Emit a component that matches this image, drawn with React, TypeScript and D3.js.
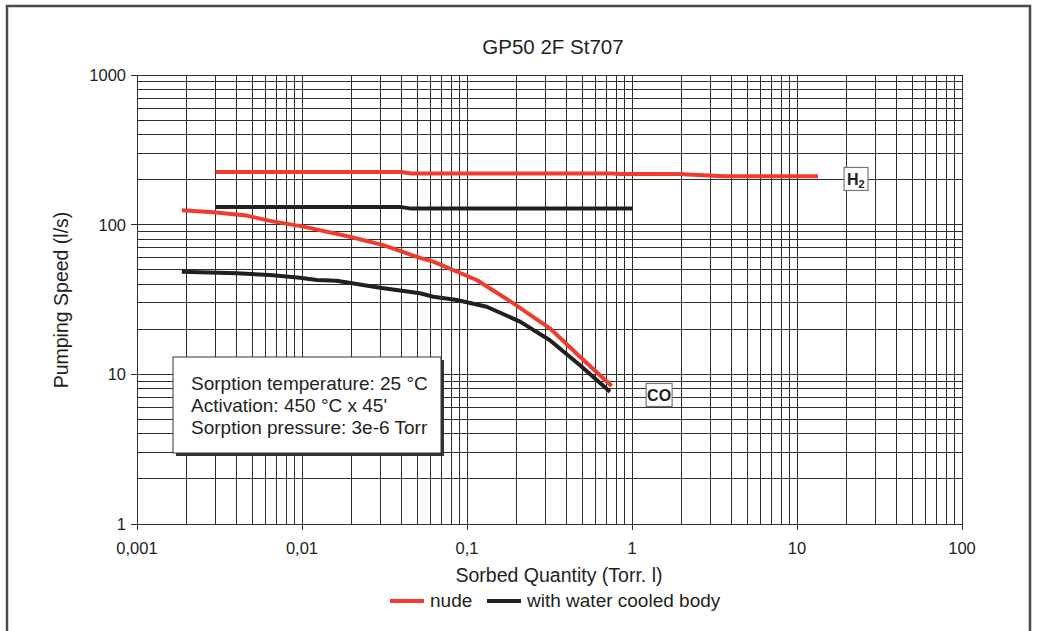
import React from "react";
import * as d3 from "d3";

const W = 1038;
const H = 631;

const xDecades = [0.001, 0.01, 0.1, 1, 10, 100];
const xTickLabels = ["0,001", "0,01", "0,1", "1", "10", "100"];
const yDecades = [1, 10, 100, 1000];
const yTickLabels = ["1", "10", "100", "1000"];

const h2NudeX = [0.003, 0.04, 0.046, 0.75, 0.85, 1.9, 3.6, 13.4];
const h2NudeY = [225, 225, 220, 220, 218, 218, 211, 211];
const h2CooledX = [0.003, 0.04, 0.046, 1.0];
const h2CooledY = [131, 131, 128, 128];
const coNudeX = [0.00187, 0.0029, 0.00462, 0.0064, 0.0102, 0.0195, 0.0311, 0.0519, 0.0625, 0.1145, 0.191, 0.318, 0.484, 0.753];
const coNudeY = [125, 121, 115, 106, 97, 83, 73, 60, 56.6, 42.7, 29.8, 20.3, 13.1, 8.36];
const coCooledX = [0.00187, 0.00402, 0.0064, 0.0097, 0.0123, 0.0162, 0.0297, 0.0519, 0.0625, 0.0867, 0.1316, 0.2096, 0.318, 0.484, 0.736];
const coCooledY = [48.5, 47.3, 46.1, 44.2, 42.7, 42.2, 37.9, 34.8, 33.0, 31.4, 28.3, 22.5, 16.9, 11.5, 7.66];

const gasLabels = ["H2", "CO"];
const gasLabelX = [22.8, 1.46];
const gasLabelY = [202, 7.28];

const infoLines = [
  "Sorption temperature: 25 °C",
  "Activation: 450 °C x 45'",
  "Sorption pressure: 3e-6 Torr",
];

const seriesNames = ["nude", "with water cooled body"];
const RED = "#ef3b30";
const BLACK = "#231f20";
const FONT = "'Liberation Sans', Arial, sans-serif";
const TXT = "#231f20";

export default function App() {
  const x = d3.scaleLog().domain([0.001, 100]).range([137, 962]);
  const y = d3.scaleLog().domain([1, 1000]).range([524, 75]);

  const xMinor: number[] = [];
  for (let i = 0; i < xDecades.length - 1; i++) {
    for (let k = 2; k <= 9; k++) xMinor.push(xDecades[i] * k);
  }
  const yMinor: number[] = [];
  for (let i = 0; i < yDecades.length - 1; i++) {
    for (let k = 2; k <= 9; k++) yMinor.push(yDecades[i] * k);
  }

  const line = d3
    .line<[number, number]>()
    .x((d) => x(d[0]))
    .y((d) => y(d[1]));

  const zip = (a: number[], b: number[]) => a.map((v, i) => [v, b[i]] as [number, number]);

  const series = [
    { d: zip(coCooledX, coCooledY), c: BLACK },
    { d: zip(h2CooledX, h2CooledY), c: BLACK },
    { d: zip(coNudeX, coNudeY), c: RED },
    { d: zip(h2NudeX, h2NudeY), c: RED },
  ];

  const gridColor = "#2e2e2e";

  return (
    <svg
      width={W}
      height={H}
      style={{ position: "absolute", left: 0, top: 0, background: "#fff" }}
      fontFamily={FONT}
    >
      <rect x={0} y={0} width={W} height={H} fill="#fff" />
      {/* frame */}
      <path d={`M7,${H + 5} V6 H1030 V${H + 5}`} fill="none" stroke="#4a4a4a" strokeWidth={2.5} />

      {/* title */}
      <text x={553} y={54} textAnchor="middle" fontSize={20.5} fill={TXT}>
        GP50 2F St707
      </text>

      {/* grid */}
      <g shapeRendering="crispEdges">
        {xMinor.concat(xDecades).map((v, i) => (
          <line key={"gx" + i} x1={x(v)} x2={x(v)} y1={75} y2={524} stroke={gridColor} strokeWidth={1} />
        ))}
        {yMinor.concat(yDecades).map((v, i) => (
          <line key={"gy" + i} x1={137} x2={962} y1={y(v)} y2={y(v)} stroke={gridColor} strokeWidth={1} />
        ))}
        {yDecades.map((v, i) => (
          <line key={"ty" + i} x1={131} x2={137} y1={y(v)} y2={y(v)} stroke={gridColor} strokeWidth={1} />
        ))}
        {xDecades.map((v, i) => (
          <line key={"tx" + i} x1={x(v)} x2={x(v)} y1={524} y2={530} stroke={gridColor} strokeWidth={1} />
        ))}
      </g>

      {/* tick labels */}
      {yDecades.map((v, i) => (
        <text key={"yl" + i} x={126} y={y(v) + 6} textAnchor="end" fontSize={16.5} fill={TXT}>
          {yTickLabels[i]}
        </text>
      ))}
      {xDecades.map((v, i) => (
        <text key={"xl" + i} x={x(v)} y={554} textAnchor="middle" fontSize={16.5} fill={TXT}>
          {xTickLabels[i]}
        </text>
      ))}

      {/* axis titles */}
      <text transform={`translate(68,300) rotate(-90)`} textAnchor="middle" fontSize={19.5} fill={TXT}>
        Pumping Speed (l/s)
      </text>
      <text x={559} y={582} textAnchor="middle" fontSize={19.5} fill={TXT}>
        Sorbed Quantity (Torr. l)
      </text>

      {/* series */}
      {series.map((s, i) => (
        <path
          key={"s" + i}
          d={line(s.d) || ""}
          fill="none"
          stroke={s.c}
          strokeWidth={4}
          strokeLinejoin="round"
        />
      ))}

      {/* gas labels */}
      {gasLabels.map((g, i) => {
        const cx = x(gasLabelX[i]);
        const cy = y(gasLabelY[i]);
        const w = g === "H2" ? 24 : 26;
        return (
          <g key={"gl" + i}>
            <rect x={cx - w / 2} y={cy - 11.5} width={w} height={23} fill="#fff" stroke="#777" strokeWidth={1.2} />
            {g === "H2" ? (
              <text x={cx - 9} y={cy + 6} fontSize={16} fontWeight="bold" fill={TXT}>
                H<tspan fontSize={11} dy={3}>2</tspan>
              </text>
            ) : (
              <text x={cx} y={cy + 6} textAnchor="middle" fontSize={16} fontWeight="bold" fill={TXT}>
                {g}
              </text>
            )}
          </g>
        );
      })}

      {/* info box */}
      <rect x={176} y={360} width={268} height={96} fill="#333" />
      <rect x={173} y={357} width={268} height={96} fill="#fff" stroke="#333" strokeWidth={1} />
      {infoLines.map((t, i) => (
        <text key={"il" + i} x={191} y={390 + i * 22} fontSize={19} fill={TXT}>
          {t}
        </text>
      ))}

      {/* legend */}
      <line x1={390} x2={424} y1={601} y2={601} stroke={RED} strokeWidth={4} />
      <text x={430} y={607} fontSize={19} fill={TXT}>
        {seriesNames[0]}
      </text>
      <line x1={487} x2={521} y1={601} y2={601} stroke={BLACK} strokeWidth={4} />
      <text x={527} y={607} fontSize={19} fill={TXT}>
        {seriesNames[1]}
      </text>
    </svg>
  );
}
